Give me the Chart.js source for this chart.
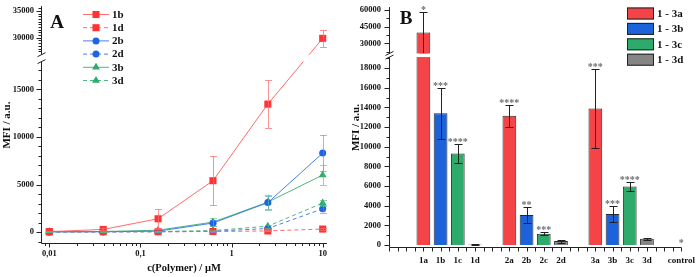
<!DOCTYPE html>
<html>
<head>
<meta charset="utf-8">
<script src="https://cdn.jsdelivr.net/npm/chart.js@4.4.1/dist/chart.umd.min.js"></script>
<style>
html, body { margin: 0; padding: 0; background: #fff; }
#wrapA { position: absolute; left: 0; top: 0; width: 350px; height: 277px; }
#wrapB { position: absolute; left: 350px; top: 0; width: 349px; height: 277px; }
</style>
</head>
<body>
<div id="wrapA"><canvas id="grafA" width="350" height="277"></canvas></div>
<div id="wrapB"><canvas id="grafB" width="349" height="277"></canvas></div>
<script>
// ---- data, panel A ----
const koncentrace = [0.01, 0.039, 0.156, 0.625, 2.5, 10];
const mfi1b = [50, 280, 1400, 5400, 13450, 29900];
const chyba1b = [80, 100, 1000, 2600, 2500, 1600];
const mfi1d = [30, 40, 40, 60, 120, 320];
const chyba1d = [20, 20, 20, 30, 50, 80];
const mfi2b = [20, 30, 100, 950, 3100, 8300];
const chyba2b = [10, 15, 50, 300, 700, 1900];
const mfi2d = [20, 20, 30, 80, 380, 2450];
const chyba2d = [10, 10, 15, 30, 100, 400];
const mfi3b = [40, 60, 200, 1050, 3150, 6000];
const chyba3b = [20, 20, 80, 400, 800, 1100];
const mfi3d = [30, 40, 60, 160, 620, 3050];
const chyba3d = [10, 10, 20, 50, 150, 300];
const yTickyA = [0, 5000, 10000, 15000, 30000, 35000];
const xTickyA = [0.01, 0.1, 1, 10];

// ---- data, panel B ----
const kategorieB = ["", "", "1a", "1b", "1c", "1d", "", "2a", "2b", "2c", "2d", "", "3a", "3b", "3c", "3d", "", "control"];
const skupinaB = [null, null, 0, 1, 2, 3, null, 0, 1, 2, 3, null, 0, 1, 2, 3, null, null];
const mfiB = [null, null, 39800, 13400, 9300, 50, null, 13150, 3050, 1150, 400, null, 13900, 3150, 5950, 630, null, 0];
const chybaB = [null, null, 18600, 2600, 1000, 30, null, 1100, 800, 150, 150, null, 4000, 800, 450, 80, null, null];
const hvezdyB = ["", "", "*", "***", "****", "", "", "****", "**", "***", "", "", "***", "***", "****", "", "", "*"];
const legendaB = ["1 - 3a", "1 - 3b", "1 - 3c", "1 - 3d"];
const yTickyB = [0, 2000, 4000, 6000, 8000, 10000, 12000, 14000, 16000, 18000, 30000, 45000, 60000];

const pismo = '"Liberation Serif", "Times New Roman", serif';

// osa s prerusenim (broken axis)
class LomenaOsa extends Chart.LinearScale {
    buildTicks() {
        return this.options.hodnoty.map(v => ({ value: v }));
    }
    _podil(v) {
        const z = this.options.zlom;
        if (v <= z.dolniMax) return (v - this.min) / (z.dolniMax - this.min) * z.dolniPodil;
        if (v >= z.horniMin) return z.horniPodil + (v - z.horniMin) / (this.max - z.horniMin) * (1 - z.horniPodil);
        return z.dolniPodil + (v - z.dolniMax) / (z.horniMin - z.dolniMax) * (z.horniPodil - z.dolniPodil);
    }
    getPixelForValue(v) {
        if (v === null || v === undefined || isNaN(v)) return NaN;
        return this.getPixelForDecimal(this._podil(v));
    }
    getValueForPixel(p) {
        const z = this.options.zlom;
        const d = this.getDecimalForPixel(p);
        if (d <= z.dolniPodil) return this.min + d / z.dolniPodil * (z.dolniMax - this.min);
        if (d >= z.horniPodil) return z.horniMin + (d - z.horniPodil) / (1 - z.horniPodil) * (this.max - z.horniMin);
        return z.dolniMax + (d - z.dolniPodil) / (z.horniPodil - z.dolniPodil) * (z.horniMin - z.dolniMax);
    }
}
LomenaOsa.id = "lomena";
LomenaOsa.defaults = {};
Chart.register(LomenaOsa);

// osy, znacky, mezera
const osyPlugin = {
    id: "osy",
    afterDatasetsDraw(chart, args, o) {
        const { ctx, chartArea: a, scales: { x, y } } = chart;
        const z = y.options.zlom;
        const yDol = y.getPixelForDecimal(z.dolniPodil);
        const yHor = y.getPixelForDecimal(z.horniPodil);
        const lx = Math.round(a.left) + 0.5;
        const by = Math.round(a.bottom) + 0.5;
        ctx.save();
        ctx.fillStyle = "#fff";
        ctx.fillRect(a.left + 1, yHor, a.right - a.left + 4, yDol - yHor);
        ctx.strokeStyle = "#222";
        ctx.lineWidth = 1;
        ctx.beginPath();
        ctx.moveTo(lx, by); ctx.lineTo(lx, yDol);
        ctx.moveTo(lx, yHor); ctx.lineTo(lx, a.top - 1);
        ctx.moveTo(lx, by); ctx.lineTo(a.right, by);
        y.ticks.forEach(t => {
            const p = Math.round(y.getPixelForValue(t.value)) + 0.5;
            ctx.moveTo(lx - 5, p); ctx.lineTo(lx, p);
        });
        o.minorY.forEach(v => {
            const p = Math.round(y.getPixelForValue(v)) + 0.5;
            ctx.moveTo(lx - 3, p); ctx.lineTo(lx, p);
        });
        o.majorX.forEach(v => {
            const p = Math.round(x.getPixelForValue(v)) + 0.5;
            ctx.moveTo(p, by); ctx.lineTo(p, by + 4);
        });
        o.minorX.forEach(v => {
            const p = Math.round(x.getPixelForValue(v)) + 0.5;
            ctx.moveTo(p, by); ctx.lineTo(p, by + o.minorLen);
        });
        ctx.stroke();
        // znacka prerusení
        ctx.beginPath();
        ctx.moveTo(lx - 4, yDol + 2); ctx.lineTo(lx + 4, yDol - 2);
        ctx.moveTo(lx - 4, yHor + 2); ctx.lineTo(lx + 4, yHor - 2);
        ctx.stroke();
        // pismeno panelu
        ctx.fillStyle = "#111";
        ctx.font = "bold 19px " + pismo;
        ctx.textAlign = "center";
        ctx.textBaseline = "alphabetic";
        ctx.fillText(o.pismeno, o.pismenoX, o.pismenoY);
        ctx.restore();
    }
};

// chybove usecky, panel A
const chybyAPlugin = {
    id: "chybyA",
    afterDatasetsDraw(chart) {
        const { ctx, scales: { x, y } } = chart;
        ctx.save();
        ctx.lineWidth = 1;
        chart.data.datasets.forEach(ds => {
            ctx.strokeStyle = ds.barvaChyby;
            ctx.beginPath();
            ds.data.forEach((b, i) => {
                const e = ds.chyby[i];
                const px = Math.round(x.getPixelForValue(b.x)) + 0.5;
                const t = y.getPixelForValue(b.y + e);
                const d = y.getPixelForValue(Math.max(b.y - e, -200));
                ctx.moveTo(px, t); ctx.lineTo(px, d);
                ctx.moveTo(px - 3.5, Math.round(t) + 0.5); ctx.lineTo(px + 3.5, Math.round(t) + 0.5);
                ctx.moveTo(px - 3.5, Math.round(d) + 0.5); ctx.lineTo(px + 3.5, Math.round(d) + 0.5);
            });
            ctx.stroke();
        });
        ctx.restore();
    }
};

// legenda, panel A
const legendaAPlugin = {
    id: "legendaA",
    afterDraw(chart) {
        const { ctx } = chart;
        ctx.save();
        chart.data.datasets.forEach((ds, i) => {
            const ry = 14 + i * 13.2;
            ctx.strokeStyle = ds.borderColor;
            ctx.lineWidth = 1;
            ctx.setLineDash(ds.borderDash);
            ctx.beginPath();
            ctx.moveTo(83, ry + 0.5); ctx.lineTo(109, ry + 0.5);
            ctx.stroke();
            ctx.setLineDash([]);
            ctx.fillStyle = ds.pointBackgroundColor;
            ctx.strokeStyle = ds.pointBackgroundColor;
            Chart.helpers.drawPoint(ctx, { pointStyle: ds.pointStyle, rotation: 0, radius: ds.pointRadius, borderWidth: 0 }, 96, ry + 0.5);
            ctx.fillStyle = "#111";
            ctx.font = "bold 11px " + pismo;
            ctx.textAlign = "left";
            ctx.textBaseline = "middle";
            ctx.fillText(ds.label, 112, ry + 1);
        });
        ctx.restore();
    }
};

// chyby, hvezdicky a legenda, panel B
const chybyBPlugin = {
    id: "chybyB",
    afterDatasetsDraw(chart) {
        const { ctx, scales: { x, y } } = chart;
        ctx.save();
        ctx.strokeStyle = "#222";
        ctx.lineWidth = 1;
        ctx.beginPath();
        mfiB.forEach((v, i) => {
            const e = chybaB[i];
            if (v === null || e === null) return;
            const px = Math.round(x.getPixelForValue(i)) + 0.5;
            const t = Math.round(y.getPixelForValue(v + e)) + 0.5;
            const d = Math.round(y.getPixelForValue(Math.max(v - e, 0))) + 0.5;
            ctx.moveTo(px, t); ctx.lineTo(px, d);
            ctx.moveTo(px - 4, t); ctx.lineTo(px + 4, t);
            ctx.moveTo(px - 4, d); ctx.lineTo(px + 4, d);
        });
        ctx.stroke();
        ctx.restore();
    }
};

const hvezdyPlugin = {
    id: "hvezdy",
    afterDraw(chart) {
        const { ctx, scales: { x, y } } = chart;
        ctx.save();
        ctx.font = "bold 10px " + pismo;
        ctx.fillStyle = "#6e6e6e";
        ctx.textAlign = "center";
        ctx.textBaseline = "alphabetic";
        hvezdyB.forEach((h, i) => {
            if (!h) return;
            const vrch = (mfiB[i] || 0) + (chybaB[i] || 0);
            ctx.fillText(h, x.getPixelForValue(i), y.getPixelForValue(vrch) + 1);
        });
        // legenda
        chart.data.datasets.forEach((ds, i) => {
            const ry = 7.5 + i * 15.4;
            ctx.fillStyle = ds.backgroundColor;
            ctx.fillRect(277, ry, 27, 12);
            ctx.strokeStyle = "#222";
            ctx.lineWidth = 1;
            ctx.strokeRect(277.5, ry + 0.5, 26, 11);
            ctx.fillStyle = "#111";
            ctx.font = "bold 11px " + pismo;
            ctx.textAlign = "left";
            ctx.textBaseline = "middle";
            ctx.fillText(legendaB[i], 307, ry + 6.5);
        });
        ctx.restore();
    }
};

// ---- panel A ----
function sadaA(nazev, hodnoty, chyby, znacka, cara, chybaBarva, tvar, carkovana) {
    return {
        label: nazev,
        data: koncentrace.map((k, i) => ({ x: k, y: hodnoty[i] })),
        chyby: chyby,
        barvaChyby: chybaBarva,
        borderColor: cara,
        borderWidth: 1,
        borderDash: carkovana ? [4, 3] : [],
        pointStyle: tvar,
        pointRadius: tvar === "rect" ? 5 : (tvar === "triangle" ? 4.5 : 3.5),
        pointBackgroundColor: znacka,
        pointBorderColor: znacka,
        pointBorderWidth: 0,
        fill: false,
        tension: 0
    };
}

const minorYA = [];
for (let v = -1000; v <= 17000; v += 1000) if (!yTickyA.includes(v)) minorYA.push(v);
for (let v = 27500; v <= 35500; v += 500) if (!yTickyA.includes(v)) minorYA.push(v);
const minorXA = [];
[0.001, 0.01, 0.1, 1].forEach(d => { for (let k = 2; k <= 9; k++) { const v = k * d; if (v > 0.0082 && v < 11) minorXA.push(v); } });

new Chart(document.getElementById("grafA"), {
    type: "line",
    data: {
        datasets: [
            sadaA("1b", mfi1b, chyba1b, "#ff3333", "rgba(255,90,90,0.9)", "rgba(255,110,110,0.75)", "rect", false),
            sadaA("1d", mfi1d, chyba1d, "#ff3333", "rgba(255,90,90,0.9)", "rgba(255,110,110,0.75)", "rect", true),
            sadaA("2b", mfi2b, chyba2b, "#1f63e6", "rgba(50,115,230,0.9)", "rgba(80,140,235,0.6)", "circle", false),
            sadaA("2d", mfi2d, chyba2d, "#1f63e6", "rgba(50,115,230,0.9)", "rgba(80,140,235,0.6)", "circle", true),
            sadaA("3b", mfi3b, chyba3b, "#2eaa6c", "rgba(60,175,115,0.9)", "rgba(80,185,130,0.6)", "triangle", false),
            sadaA("3d", mfi3d, chyba3d, "#2eaa6c", "rgba(60,175,115,0.9)", "rgba(80,185,130,0.6)", "triangle", true)
        ]
    },
    options: {
        responsive: false,
        animation: false,
        layout: { padding: { top: 5, right: 23, left: 0, bottom: 0 } },
        plugins: {
            legend: { display: false },
            tooltip: { enabled: false },
            osy: { minorY: minorYA, majorX: xTickyA, minorX: minorXA, minorLen: 2.5, pismeno: "A", pismenoX: 57, pismenoY: 28 }
        },
        scales: {
            x: {
                type: "logarithmic",
                min: 0.0081,
                max: 11.15,
                afterBuildTicks: s => { s.ticks = xTickyA.map(v => ({ value: v })); },
                afterFit: s => { s.height = 34; },
                grid: { display: false, drawTicks: true, tickLength: 4 },
                border: { display: false },
                ticks: { callback: v => String(v).replace(".", ","), autoSkip: false, maxRotation: 0, padding: 2, color: "#111", font: { family: pismo, size: 8.5, weight: "bold" } },
                title: { display: true, text: "c(Polymer) / µM", color: "#111", padding: { top: 0, bottom: 2 }, font: { family: pismo, size: 10.5, weight: "bold" } }
            },
            y: {
                type: "lomena",
                min: -1146,
                max: 35740,
                hodnoty: yTickyA,
                zlom: { dolniMax: 17917, horniMin: 26850, dolniPodil: 183 / 238, horniPodil: 190 / 238 },
                afterFit: s => { s.width = 41; },
                grid: { display: false, drawTicks: true, tickLength: 5 },
                border: { display: false },
                ticks: { callback: v => String(v), autoSkip: false, padding: 2, color: "#111", font: { family: pismo, size: 8.5, weight: "bold" } },
                title: { display: true, text: "MFI / a.u.", color: "#111", padding: { top: 1, bottom: 0 }, font: { family: pismo, size: 11, weight: "bold" } }
            }
        }
    },
    plugins: [chybyAPlugin, osyPlugin, legendaAPlugin]
});

// ---- panel B ----
const barvyB = ["#f44448", "#1c62da", "#2eab6b", "#858585"];
const minorYB = [];
for (let v = 1000; v <= 19000; v += 2000) minorYB.push(v);
minorYB.push(22500, 37500, 52500);
const majorXB = kategorieB.map((k, i) => i);
const minorXB = kategorieB.slice(1).map((k, i) => i + 0.5);

new Chart(document.getElementById("grafB"), {
    type: "bar",
    data: {
        labels: kategorieB,
        datasets: legendaB.map((nazev, g) => ({
            label: nazev,
            data: mfiB.map((v, i) => skupinaB[i] === g ? v : null),
            backgroundColor: barvyB[g],
            borderColor: "#2a2a2a",
            borderWidth: 1,
            borderSkipped: "bottom",
            grouped: false,
            barPercentage: 0.8,
            categoryPercentage: 1
        }))
    },
    options: {
        responsive: false,
        animation: false,
        layout: { padding: { top: 3, right: 13, left: 0, bottom: 0 } },
        plugins: {
            legend: { display: false },
            tooltip: { enabled: false },
            osy: { minorY: minorYB, majorX: majorXB, minorX: minorXB, minorLen: 4, pismeno: "B", pismenoX: 56, pismenoY: 24 }
        },
        scales: {
            x: {
                type: "category",
                offset: false,
                afterFit: s => { s.height = 30; },
                grid: { display: false, drawTicks: true, tickLength: 4 },
                border: { display: false },
                ticks: { autoSkip: false, maxRotation: 0, padding: 4, color: "#111", font: { family: pismo, size: 9, weight: "bold" } }
            },
            y: {
                type: "lomena",
                min: -199,
                max: 61490,
                hodnoty: yTickyB,
                zlom: { dolniMax: 19124, horniMin: 20990, dolniPodil: 194 / 244, horniPodil: 197.7 / 244 },
                afterFit: s => { s.width = 39; },
                grid: { display: false, drawTicks: true, tickLength: 5 },
                border: { display: false },
                ticks: { callback: v => String(v), autoSkip: false, padding: 3, color: "#111", font: { family: pismo, size: 8.5, weight: "bold" } },
                title: { display: true, text: "MFI / a.u.", color: "#111", padding: { top: 0, bottom: 0 }, font: { family: pismo, size: 11, weight: "bold" } }
            }
        }
    },
    plugins: [chybyBPlugin, osyPlugin, hvezdyPlugin]
});
</script>
</body>
</html>
